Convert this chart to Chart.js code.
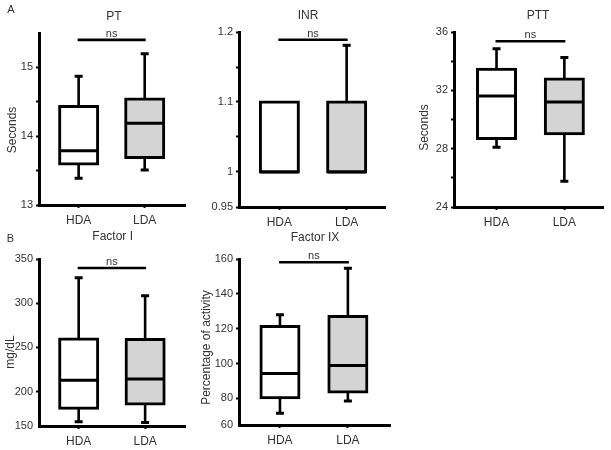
<!DOCTYPE html>
<html>
<head>
<meta charset="utf-8">
<script src="https://cdn.jsdelivr.net/npm/chart.js@4.4.1/dist/chart.umd.min.js"></script>
<style>
  html, body { margin: 0; padding: 0; background: #ffffff; }
  #wrap { position: relative; width: 611px; height: 450px; overflow: hidden; background: #fff; }
  canvas { position: absolute; }
</style>
</head>
<body>
<div id="wrap"></div>
<script>
// ---- Data (five-number summaries: [min, Q1, median, Q3, max]) ----
const groups = ['HDA', 'LDA'];

const ptHDA = [13.39, 13.595, 13.79, 14.43, 14.87];
const ptLDA = [13.51, 13.69, 14.19, 14.54, 15.2];
const ptYTicks = [13, 14, 15];
const ptYMinorTicks = [13.5, 14.5];
const ptNs = 15.4;

const inrHDA = [1.0, 1.0, 1.0, 1.1, 1.1];
const inrLDA = [1.0, 1.0, 1.0, 1.1, 1.181];
const inrYTicks = [0.95, 1, 1.1, 1.2];
const inrYMinorTicks = [1.05, 1.15];
const inrNs = 1.189;

const pttHDA = [28.1, 28.69, 31.61, 33.44, 34.86];
const pttLDA = [25.76, 29.03, 31.2, 32.78, 34.25];
const pttYTicks = [24, 28, 32, 36];
const pttYMinorTicks = [26, 30, 34];
const pttNs = 35.37;

const factorIHDA = [166.1, 181.2, 212.9, 259.5, 328.9];
const factorILDA = [165.2, 186.0, 214.4, 259.0, 308.4];
const factorIYTicks = [150, 200, 250, 300, 350];
const factorIAxisFloor = 161.2;   // value at which the (broken) axis is drawn, labelled "150"
const factorINs = 339.8;

const factorIXHDA = [71.4, 80.4, 94.3, 121.3, 128.0];
const factorIXLDA = [78.5, 83.6, 98.9, 127.0, 154.7];
const factorIXYTicks = [60, 80, 100, 120, 140, 160];
const factorIXAxisFloor = 64.7;   // value at which the (broken) axis is drawn, labelled "60"
const factorIXNs = 158.1;

// ---- Panel layout ----
const FONT = "'Liberation Sans', Arial, sans-serif";
const TEXT = '#333333';
const fills = ['#ffffff', '#d4d4d4'];

const panels = [
  { title: 'PT', stats: [ptHDA, ptLDA], yTicks: ptYTicks, yMinor: ptYMinorTicks, floor: null,
    yMin: 13, yMax: 15.5, xMin: 0.4, xMax: 2.61, ns: ptNs,
    canvas: { left: 0, top: 0, width: 200, height: 232 }, area: { left: 39, top: 33, right: 185, bottom: 205 },
    titlePos: [114, 17], yTitle: 'Seconds', yTitlePos: [12.5, 130], letter: 'A', letterPos: [11, 10] },
  { title: 'INR', stats: [inrHDA, inrLDA], yTicks: inrYTicks, yMinor: inrYMinorTicks, floor: null,
    yMin: 0.95, yMax: 1.2, xMin: 0.4, xMax: 2.57, ns: inrNs,
    canvas: { left: 200, top: 0, width: 200, height: 232 }, area: { left: 239, top: 32, right: 385, bottom: 207 },
    titlePos: [308, 16], yTitle: null },
  { title: 'PTT', stats: [pttHDA, pttLDA], yTicks: pttYTicks, yMinor: pttYMinorTicks, floor: null,
    yMin: 24, yMax: 36, xMin: 0.373, xMax: 2.57, ns: pttNs,
    canvas: { left: 400, top: 0, width: 211, height: 232 }, area: { left: 454, top: 32, right: 603, bottom: 207 },
    titlePos: [538, 16], yTitle: 'Seconds', yTitlePos: [424.5, 127.5] },
  { title: 'Factor I', stats: [factorIHDA, factorILDA], yTicks: factorIYTicks, yMinor: [], floor: factorIAxisFloor,
    yMin: factorIAxisFloor, yMax: 350, xMin: 0.403, xMax: 2.6, ns: factorINs,
    canvas: { left: 0, top: 228, width: 195, height: 222 }, area: { left: 39, top: 259, right: 185, bottom: 426 },
    titlePos: [112.7, 237], yTitle: 'mg/dL', yTitlePos: [11, 352], letter: 'B', letterPos: [10.5, 239] },
  { title: 'Factor IX', stats: [factorIXHDA, factorIXLDA], yTicks: factorIXYTicks, yMinor: [], floor: factorIXAxisFloor,
    yMin: factorIXAxisFloor, yMax: 160, xMin: 0.397, xMax: 2.62, ns: factorIXNs,
    canvas: { left: 195, top: 228, width: 205, height: 222 }, area: { left: 239, top: 259, right: 390, bottom: 425 },
    titlePos: [315, 237.5], yTitle: 'Percentage of activity', yTitlePos: [206.5, 347.5] }
];

const HALF_BOX = 19;   // half of the box width (border centre), px

const boxPlugin = {
  id: 'boxExtras',
  afterDatasetsDraw(chart) {
    const p = chart.options.plugins.boxExtras.panel;
    const ctx = chart.ctx;
    const xs = chart.scales.x, ys = chart.scales.y;
    const ox = p.canvas.left, oy = p.canvas.top;
    ctx.save();
    ctx.strokeStyle = '#000';
    ctx.lineCap = 'butt';
    p.stats.forEach((s, i) => {
      const cx = xs.getPixelForValue(i + 1);
      const [mn, q1, med, q3, mx] = s.map(v => ys.getPixelForValue(v));
      // whiskers
      ctx.lineWidth = 2.6;
      ctx.beginPath();
      if (mx < q3) { ctx.moveTo(cx, q3); ctx.lineTo(cx, mx); }
      if (mn > q1) { ctx.moveTo(cx, q1); ctx.lineTo(cx, mn); }
      ctx.stroke();
      // caps
      ctx.lineWidth = 3;
      ctx.beginPath();
      if (mx < q3) { ctx.moveTo(cx - 4, mx); ctx.lineTo(cx + 4, mx); }
      if (mn > q1) { ctx.moveTo(cx - 4, mn); ctx.lineTo(cx + 4, mn); }
      ctx.stroke();
      // median
      ctx.lineWidth = 3;
      ctx.beginPath();
      ctx.moveTo(cx - HALF_BOX, med); ctx.lineTo(cx + HALF_BOX, med);
      ctx.stroke();
    });
    // significance bar
    const nsY = ys.getPixelForValue(p.ns);
    const x1 = xs.getPixelForValue(1), x2 = xs.getPixelForValue(2);
    ctx.lineWidth = 2.6;
    ctx.beginPath(); ctx.moveTo(x1 - 1, nsY); ctx.lineTo(x2 + 1, nsY); ctx.stroke();
    ctx.fillStyle = TEXT;
    ctx.font = '11px ' + FONT;
    ctx.textAlign = 'center';
    ctx.textBaseline = 'alphabetic';
    ctx.fillText('ns', (x1 + x2) / 2, nsY - 3);
    // title
    ctx.font = '12px ' + FONT;
    ctx.textBaseline = 'middle';
    ctx.fillText(p.title, p.titlePos[0] - ox, p.titlePos[1] - oy);
    // panel letter
    if (p.letter) {
      ctx.font = '11px ' + FONT;
      ctx.fillText(p.letter, p.letterPos[0] - ox, p.letterPos[1] - oy);
    }
    // y title
    if (p.yTitle) {
      ctx.save();
      ctx.translate(p.yTitlePos[0] - ox, p.yTitlePos[1] - oy);
      ctx.rotate(-Math.PI / 2);
      ctx.font = '12px ' + FONT;
      ctx.textAlign = 'center';
      ctx.textBaseline = 'middle';
      ctx.fillText(p.yTitle, 0, 0);
      ctx.restore();
    }
    ctx.restore();
  }
};

const wrap = document.getElementById('wrap');

panels.forEach(p => {
  const cv = document.createElement('canvas');
  cv.width = p.canvas.width; cv.height = p.canvas.height;
  cv.style.left = p.canvas.left + 'px'; cv.style.top = p.canvas.top + 'px';
  cv.style.width = p.canvas.width + 'px'; cv.style.height = p.canvas.height + 'px';
  wrap.appendChild(cv);

  const yTickValues = p.yTicks.map((t, i) => (i === 0 && p.floor !== null) ? p.floor : t);
  const yLabelFor = v => {
    const idx = yTickValues.findIndex(t => Math.abs(t - v) < 1e-9);
    return idx >= 0 ? String(p.yTicks[idx]) : '';
  };
  const allY = yTickValues.concat(p.yMinor);

  new Chart(cv, {
    type: 'bar',
    data: {
      datasets: [{
        data: p.stats.map((s, i) => ({ x: i + 1, y: [s[1], s[3]] })),
        backgroundColor: fills,
        borderColor: '#000',
        borderWidth: 3,
        borderSkipped: false,
        barThickness: 38,
        inflateAmount: 1.5
      }]
    },
    options: {
      responsive: false,
      animation: false,
      devicePixelRatio: 1,
      layout: {
        padding: {
          left: 0, bottom: 0,
          top: p.area.top - p.canvas.top,
          right: p.canvas.left + p.canvas.width - p.area.right
        }
      },
      plugins: {
        legend: { display: false },
        tooltip: { enabled: false },
        title: { display: false },
        boxExtras: { panel: p }
      },
      scales: {
        x: {
          type: 'linear',
          min: p.xMin, max: p.xMax,
          offset: false,
          grid: { display: true, offset: false, drawOnChartArea: false, drawTicks: true,
                  tickLength: 3, tickWidth: 2, tickColor: '#000', color: '#000' },
          border: { display: true, color: '#000', width: 3 },
          ticks: { font: { family: FONT, size: 12 }, color: TEXT, padding: 5, maxRotation: 0,
                   callback: v => groups[Math.round(v) - 1] || '' },
          afterBuildTicks: s => { s.ticks = groups.map((g, i) => ({ value: i + 1 })); },
          afterFit: s => { s.height = p.canvas.top + p.canvas.height - p.area.bottom; }
        },
        y: {
          type: 'linear',
          min: p.yMin, max: p.yMax,
          grid: { display: true, drawOnChartArea: false, drawTicks: true, tickLength: 3, tickWidth: 2,
                  color: '#000',
                  tickColor: c => (c.tick && p.floor !== null && Math.abs(c.tick.value - p.floor) < 1e-9) ? 'rgba(0,0,0,0)' : '#000' },
          border: { display: true, color: '#000', width: 3 },
          ticks: { font: { family: FONT, size: 11 }, color: TEXT, padding: 3, autoSkip: false,
                   callback: v => yLabelFor(v) },
          afterBuildTicks: s => { s.ticks = allY.slice().sort((a, b) => a - b).map(v => ({ value: v })); },
          afterFit: s => { s.width = p.area.left - p.canvas.left; }
        }
      }
    },
    plugins: [boxPlugin]
  });
});
</script>
</body>
</html>
